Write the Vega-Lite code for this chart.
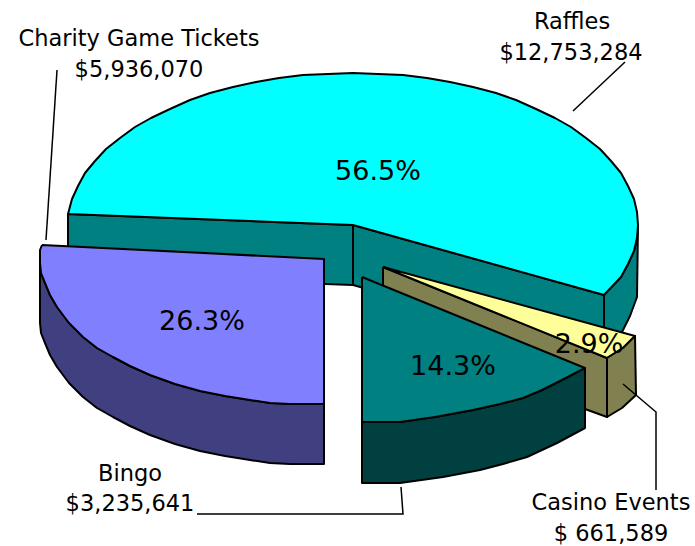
{"$schema":"https://vega.github.io/schema/vega-lite/v6.json","width":695,"height":546,"padding":0,"autosize":{"type":"fit","contains":"padding"},"background":"white","config":{"view":{"stroke":null}},
"datasets":{
"shapes":[
{"part":"wall1","i":0,"x":68,"y":214},{"part":"wall1","i":1,"x":353,"y":225},{"part":"wall1","i":2,"x":353,"y":285},{"part":"wall1","i":3,"x":325,"y":284},{"part":"wall1","i":4,"x":68,"y":274},{"part":"wall1","i":5,"x":68,"y":214},
{"part":"wall2","i":0,"x":353,"y":225},{"part":"wall2","i":1,"x":604,"y":295},{"part":"wall2","i":2,"x":604,"y":355},{"part":"wall2","i":3,"x":353,"y":285},{"part":"wall2","i":4,"x":353,"y":225},
{"part":"outer","i":0,"x":604,"y":295},{"part":"outer","i":1,"x":621,"y":277},{"part":"outer","i":2,"x":628,"y":264},{"part":"outer","i":3,"x":634,"y":251},{"part":"outer","i":4,"x":637,"y":238},{"part":"outer","i":5,"x":638,"y":225},{"part":"outer","i":6,"x":637,"y":297},{"part":"outer","i":7,"x":630,"y":316},{"part":"outer","i":8,"x":622,"y":332},{"part":"outer","i":9,"x":604,"y":355},{"part":"outer","i":10,"x":604,"y":295},
{"part":"raffles","i":0,"x":353,"y":225},{"part":"raffles","i":1,"x":604,"y":295},{"part":"raffles","i":2,"x":621,"y":277},{"part":"raffles","i":3,"x":628,"y":264},{"part":"raffles","i":4,"x":634,"y":251},{"part":"raffles","i":5,"x":637,"y":238},{"part":"raffles","i":6,"x":638,"y":225},{"part":"raffles","i":7,"x":637,"y":212},{"part":"raffles","i":8,"x":634,"y":199},{"part":"raffles","i":9,"x":628,"y":186},{"part":"raffles","i":10,"x":621,"y":173},{"part":"raffles","i":11,"x":611,"y":161},{"part":"raffles","i":12,"x":600,"y":149},{"part":"raffles","i":13,"x":586,"y":138},{"part":"raffles","i":14,"x":571,"y":127},{"part":"raffles","i":15,"x":555,"y":118},{"part":"raffles","i":16,"x":536,"y":109},{"part":"raffles","i":17,"x":516,"y":100},{"part":"raffles","i":18,"x":496,"y":93},{"part":"raffles","i":19,"x":473,"y":87},{"part":"raffles","i":20,"x":450,"y":82},{"part":"raffles","i":21,"x":427,"y":78},{"part":"raffles","i":22,"x":403,"y":75},{"part":"raffles","i":23,"x":378,"y":74},{"part":"raffles","i":24,"x":353,"y":73},{"part":"raffles","i":25,"x":328,"y":74},{"part":"raffles","i":26,"x":303,"y":75},{"part":"raffles","i":27,"x":279,"y":78},{"part":"raffles","i":28,"x":256,"y":82},{"part":"raffles","i":29,"x":233,"y":87},{"part":"raffles","i":30,"x":210,"y":93},{"part":"raffles","i":31,"x":190,"y":100},{"part":"raffles","i":32,"x":170,"y":109},{"part":"raffles","i":33,"x":151,"y":118},{"part":"raffles","i":34,"x":135,"y":127},{"part":"raffles","i":35,"x":120,"y":138},{"part":"raffles","i":36,"x":106,"y":149},{"part":"raffles","i":37,"x":95,"y":161},{"part":"raffles","i":38,"x":85,"y":173},{"part":"raffles","i":39,"x":78,"y":186},{"part":"raffles","i":40,"x":72,"y":199},{"part":"raffles","i":41,"x":68,"y":214},{"part":"raffles","i":42,"x":353,"y":225},
{"part":"casinoInner","i":0,"x":383,"y":267},{"part":"casinoInner","i":1,"x":607,"y":358},{"part":"casinoInner","i":2,"x":607,"y":417},{"part":"casinoInner","i":3,"x":585,"y":409},{"part":"casinoInner","i":4,"x":383,"y":329},{"part":"casinoInner","i":5,"x":383,"y":267},
{"part":"casinoTop","i":0,"x":383,"y":267},{"part":"casinoTop","i":1,"x":635,"y":336},{"part":"casinoTop","i":2,"x":623,"y":348},{"part":"casinoTop","i":3,"x":607,"y":358},{"part":"casinoTop","i":4,"x":383,"y":267},
{"part":"casinoSide","i":0,"x":607,"y":358},{"part":"casinoSide","i":1,"x":623,"y":348},{"part":"casinoSide","i":2,"x":635,"y":336},{"part":"casinoSide","i":3,"x":636,"y":395},{"part":"casinoSide","i":4,"x":622,"y":408},{"part":"casinoSide","i":5,"x":607,"y":417},{"part":"casinoSide","i":6,"x":607,"y":358},
{"part":"wedgeSide","i":0,"x":362,"y":422},{"part":"wedgeSide","i":1,"x":400,"y":422},{"part":"wedgeSide","i":2,"x":435,"y":417},{"part":"wedgeSide","i":3,"x":473,"y":410},{"part":"wedgeSide","i":4,"x":500,"y":404},{"part":"wedgeSide","i":5,"x":523,"y":398},{"part":"wedgeSide","i":6,"x":542,"y":390},{"part":"wedgeSide","i":7,"x":560,"y":381},{"part":"wedgeSide","i":8,"x":585,"y":368},{"part":"wedgeSide","i":9,"x":585,"y":428},{"part":"wedgeSide","i":10,"x":557,"y":443},{"part":"wedgeSide","i":11,"x":527,"y":457},{"part":"wedgeSide","i":12,"x":503,"y":464},{"part":"wedgeSide","i":13,"x":480,"y":470},{"part":"wedgeSide","i":14,"x":443,"y":477},{"part":"wedgeSide","i":15,"x":400,"y":483},{"part":"wedgeSide","i":16,"x":362,"y":483},{"part":"wedgeSide","i":17,"x":362,"y":422},
{"part":"wedgeTop","i":0,"x":362,"y":277},{"part":"wedgeTop","i":1,"x":585,"y":368},{"part":"wedgeTop","i":2,"x":560,"y":381},{"part":"wedgeTop","i":3,"x":542,"y":390},{"part":"wedgeTop","i":4,"x":523,"y":398},{"part":"wedgeTop","i":5,"x":500,"y":404},{"part":"wedgeTop","i":6,"x":473,"y":410},{"part":"wedgeTop","i":7,"x":435,"y":417},{"part":"wedgeTop","i":8,"x":400,"y":422},{"part":"wedgeTop","i":9,"x":362,"y":422},{"part":"wedgeTop","i":10,"x":362,"y":277},
{"part":"bingoSide","i":0,"x":40,"y":263},{"part":"bingoSide","i":1,"x":41,"y":273},{"part":"bingoSide","i":2,"x":45,"y":283},{"part":"bingoSide","i":3,"x":50,"y":295},{"part":"bingoSide","i":4,"x":57,"y":307},{"part":"bingoSide","i":5,"x":69,"y":323},{"part":"bingoSide","i":6,"x":83,"y":337},{"part":"bingoSide","i":7,"x":97,"y":348},{"part":"bingoSide","i":8,"x":113,"y":357},{"part":"bingoSide","i":9,"x":130,"y":366},{"part":"bingoSide","i":10,"x":150,"y":375},{"part":"bingoSide","i":11,"x":175,"y":384},{"part":"bingoSide","i":12,"x":200,"y":391},{"part":"bingoSide","i":13,"x":225,"y":396},{"part":"bingoSide","i":14,"x":250,"y":400},{"part":"bingoSide","i":15,"x":270,"y":403},{"part":"bingoSide","i":16,"x":290,"y":404},{"part":"bingoSide","i":17,"x":324,"y":404},{"part":"bingoSide","i":18,"x":324,"y":464},{"part":"bingoSide","i":19,"x":290,"y":464},{"part":"bingoSide","i":20,"x":270,"y":463},{"part":"bingoSide","i":21,"x":250,"y":460},{"part":"bingoSide","i":22,"x":225,"y":456},{"part":"bingoSide","i":23,"x":200,"y":451},{"part":"bingoSide","i":24,"x":175,"y":444},{"part":"bingoSide","i":25,"x":150,"y":435},{"part":"bingoSide","i":26,"x":130,"y":426},{"part":"bingoSide","i":27,"x":113,"y":417},{"part":"bingoSide","i":28,"x":97,"y":408},{"part":"bingoSide","i":29,"x":83,"y":397},{"part":"bingoSide","i":30,"x":69,"y":383},{"part":"bingoSide","i":31,"x":57,"y":367},{"part":"bingoSide","i":32,"x":50,"y":355},{"part":"bingoSide","i":33,"x":45,"y":343},{"part":"bingoSide","i":34,"x":41,"y":333},{"part":"bingoSide","i":35,"x":40,"y":323},{"part":"bingoSide","i":36,"x":40,"y":263},
{"part":"bingoTop","i":0,"x":42,"y":245},{"part":"bingoTop","i":1,"x":324,"y":259},{"part":"bingoTop","i":2,"x":324,"y":404},{"part":"bingoTop","i":3,"x":290,"y":404},{"part":"bingoTop","i":4,"x":270,"y":403},{"part":"bingoTop","i":5,"x":250,"y":400},{"part":"bingoTop","i":6,"x":225,"y":396},{"part":"bingoTop","i":7,"x":200,"y":391},{"part":"bingoTop","i":8,"x":175,"y":384},{"part":"bingoTop","i":9,"x":150,"y":375},{"part":"bingoTop","i":10,"x":130,"y":366},{"part":"bingoTop","i":11,"x":113,"y":357},{"part":"bingoTop","i":12,"x":97,"y":348},{"part":"bingoTop","i":13,"x":83,"y":337},{"part":"bingoTop","i":14,"x":69,"y":323},{"part":"bingoTop","i":15,"x":57,"y":307},{"part":"bingoTop","i":16,"x":50,"y":295},{"part":"bingoTop","i":17,"x":45,"y":283},{"part":"bingoTop","i":18,"x":41,"y":273},{"part":"bingoTop","i":19,"x":40,"y":263},{"part":"bingoTop","i":20,"x":40,"y":250},{"part":"bingoTop","i":21,"x":42,"y":245}
],
"leaders":[
{"to":"Raffles","i":0,"x":573,"y":111},{"to":"Raffles","i":1,"x":625,"y":62},
{"to":"Charity","i":0,"x":57,"y":70},{"to":"Charity","i":1,"x":46,"y":240},
{"to":"Bingo","i":0,"x":197,"y":514},{"to":"Bingo","i":1,"x":403,"y":514},{"to":"Bingo","i":2,"x":401,"y":487},
{"to":"Casino","i":0,"x":623,"y":384},{"to":"Casino","i":1,"x":656,"y":412},{"to":"Casino","i":2,"x":656,"y":490}
],
"labels":[
{"t":"Raffles","x":572,"y":22},{"t":"$12,753,284","x":571,"y":53},{"t":"Charity Game Tickets","x":139,"y":39},{"t":"$5,936,070","x":139,"y":70},{"t":"Bingo","x":130,"y":474},{"t":"$3,235,641","x":130,"y":504},{"t":"Casino Events","x":611,"y":503},{"t":"$ 661,589","x":611,"y":534}
],
"pcts":[
{"t":"56.5%","x":378,"y":172},{"t":"26.3%","x":202,"y":322},{"t":"14.3%","x":453,"y":367},{"t":"2.9%","x":589,"y":345}
]
},
"encoding":{
"x":{"field":"x","type":"quantitative","scale":{"domain":[0,695],"nice":false,"zero":false},"axis":null},
"y":{"field":"y","type":"quantitative","scale":{"domain":[546,0],"nice":false,"zero":false},"axis":null}
},
"layer":[
{"data":{"name":"shapes"},"mark":{"type":"line","stroke":"black","strokeWidth":2,"strokeJoin":"round","clip":false},
"encoding":{"detail":{"field":"part"},"order":{"field":"i","type":"quantitative"},
"fill":{"field":"part","type":"nominal","legend":null,"scale":{"domain":["wall1","wall2","outer","raffles","casinoInner","casinoTop","casinoSide","wedgeSide","wedgeTop","bingoSide","bingoTop"],"range":["#008080","#008080","#008080","#00ffff","#808050","#ffff99","#808050","#004040","#008080","#404080","#8080ff"]}}}},
{"data":{"name":"leaders"},"mark":{"type":"line","stroke":"black","strokeWidth":1.5},
"encoding":{"detail":{"field":"to"},"order":{"field":"i","type":"quantitative"}}},
{"data":{"name":"labels"},"mark":{"type":"text","font":"DejaVu Sans","fontSize":22.5,"baseline":"middle","align":"center","color":"black"},"encoding":{"text":{"field":"t"}}},
{"data":{"name":"pcts"},"mark":{"type":"text","font":"DejaVu Sans","fontSize":27,"baseline":"middle","align":"center","color":"black"},"encoding":{"text":{"field":"t"}}}
]}
